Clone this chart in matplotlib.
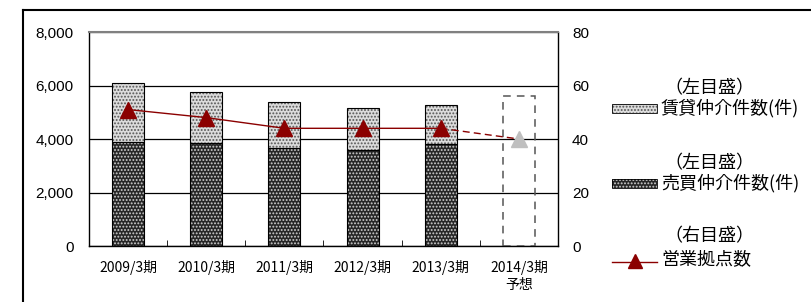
import matplotlib
matplotlib.use("Agg")
import matplotlib.pyplot as plt
from matplotlib.patches import Rectangle
from matplotlib.lines import Line2D
import numpy as np

categories = ['2009/3期', '2010/3期', '2011/3期', '2012/3期', '2013/3期', '2014/3期\n予想']
sales = [3900, 3840, 3650, 3590, 3810]          # 売買仲介件数
rental = [2200, 1910, 1750, 1560, 1450]         # 賃貸仲介件数
forecast_total = 5600                           # 2014/3期 予想 (dashed box)
offices = [51, 48, 44, 44, 44, 40]              # 営業拠点数 (right axis)

plt.rcParams['hatch.linewidth'] = 0.9
JP = ['Noto Sans CJK JP', 'DejaVu Sans']
NUM = ['Liberation Sans', 'DejaVu Sans']

fig = plt.figure(figsize=(8.11, 3.02), dpi=100)
fig.patch.set_facecolor('white')

ax = fig.add_axes([89/811, 1-246/302, (558-89)/811, (246-32)/302])
ax2 = ax.twinx()

x = np.arange(len(categories))
xb = x[:len(sales)]
w = 0.41
dark = '#262626'
light = '#dcdcdc'
lightdot = '#555555'
# sales bars (dark with white dots)
ax.bar(xb, sales, w, color=dark, edgecolor='#d0d0d0', linewidth=0, hatch='.....', zorder=2)
ax.bar(xb, sales, w, fill=False, edgecolor='black', linewidth=0.8, zorder=3)
# rental bars (light with gray dots)
ax.bar(xb, rental, w, bottom=sales, color=light, edgecolor=lightdot, linewidth=0,
       hatch='.....', zorder=2)
ax.bar(xb, rental, w, bottom=sales, fill=False, edgecolor='black', linewidth=0.8, zorder=3)
# forecast dashed box
ax.bar([x[-1]], [forecast_total], w, fill=False, edgecolor='#555555', linewidth=1.1,
       linestyle=(0, (5, 4)), zorder=3)

ax.set_xlim(-0.5, len(categories) - 0.5)
ax.set_ylim(0, 8000)
ax.set_yticks([0, 2000, 4000, 6000, 8000])
ax.set_yticklabels(['0', '2,000', '4,000', '6,000', '8,000'], fontfamily=NUM, fontsize=11)
ax.yaxis.grid(True, color='black', linewidth=0.9)
ax.set_axisbelow(True)
ax.tick_params(axis='y', length=0, pad=11)
ax.set_xticks(x)
ax.set_xticklabels(categories, fontfamily=JP, fontsize=10, linespacing=1.25)
ax.set_xticks(np.arange(0.5, len(categories) - 1, 1), minor=True)
ax.tick_params(axis='x', which='major', length=0, pad=10)
ax.tick_params(axis='x', which='minor', direction='in', length=4, color='black')
for s in ['left', 'bottom', 'right']:
    ax.spines[s].set_color('black')
    ax.spines[s].set_linewidth(1.0)
ax.spines['top'].set_color('#808080')
ax.spines['top'].set_linewidth(1.5)

# line on right axis
lc = '#8b0000'
ax2.plot(x[:5], offices[:5], color=lc, linewidth=1.0, marker='^', markersize=11,
         markerfacecolor=lc, markeredgecolor=lc, zorder=5)
ax2.plot(x[4:6], offices[4:6], color=lc, linewidth=1.0, linestyle=(0, (5, 3)), zorder=4)
ax2.plot([x[5]], [offices[5]], marker='^', markersize=11, color='#bfbfbf',
         markeredgecolor='#bfbfbf', linestyle='none', zorder=5)
ax2.set_ylim(0, 80)
ax2.set_yticks([0, 20, 40, 60, 80])
ax2.set_yticklabels(['0', '20', '40', '60', '80'], fontfamily=NUM, fontsize=11)
ax2.tick_params(axis='y', length=0, pad=10)
for s in ax2.spines.values():
    s.set_visible(False)

# outer frame (clipped at right/bottom)
fig.add_artist(Line2D([23/811, 1], [1-10/302, 1-10/302], color='black', linewidth=1.5,
                      transform=fig.transFigure))
fig.add_artist(Line2D([23/811, 23/811], [0, 1-10/302], color='black', linewidth=1.5,
                      transform=fig.transFigure))

# custom legend
def fx(px):
    return px / 811
def fy(py):
    return 1 - py / 302

lx = 612
lw_ = 45
tx = 661
fs = 13
fig.text(fx(709), fy(88), '（左目盛）', ha='center', va='center', fontfamily=JP, fontsize=fs)
fig.add_artist(Rectangle((fx(lx), fy(113)), lw_/811, 9/302, transform=fig.transFigure,
                         facecolor=light, edgecolor=lightdot, hatch='.....', linewidth=0))
fig.add_artist(Rectangle((fx(lx), fy(113)), lw_/811, 9/302, transform=fig.transFigure,
                         fill=False, edgecolor='black', linewidth=0.6))
fig.text(fx(tx), fy(108), '賃貸仲介件数(件)', ha='left', va='center', fontfamily=JP, fontsize=fs)

fig.text(fx(709), fy(163), '（左目盛）', ha='center', va='center', fontfamily=JP, fontsize=fs)
fig.add_artist(Rectangle((fx(lx), fy(188)), lw_/811, 9/302, transform=fig.transFigure,
                         facecolor=dark, edgecolor='#d0d0d0', hatch='.....', linewidth=0))
fig.add_artist(Rectangle((fx(lx), fy(188)), lw_/811, 9/302, transform=fig.transFigure,
                         fill=False, edgecolor='black', linewidth=0.6))
fig.text(fx(tx), fy(183), '売買仲介件数(件)', ha='left', va='center', fontfamily=JP, fontsize=fs)

fig.text(fx(709), fy(236), '（右目盛）', ha='center', va='center', fontfamily=JP, fontsize=fs)
fig.add_artist(Line2D([fx(lx), fx(lx + lw_)], [fy(262), fy(262)], color=lc, linewidth=1.0,
                      transform=fig.transFigure))
fig.add_artist(Line2D([fx(635)], [fy(261)], marker='^', markersize=10, color=lc,
                      transform=fig.transFigure))
fig.text(fx(tx), fy(259), '営業拠点数', ha='left', va='center', fontfamily=JP, fontsize=fs)

fig.savefig('out.png', dpi=100)
